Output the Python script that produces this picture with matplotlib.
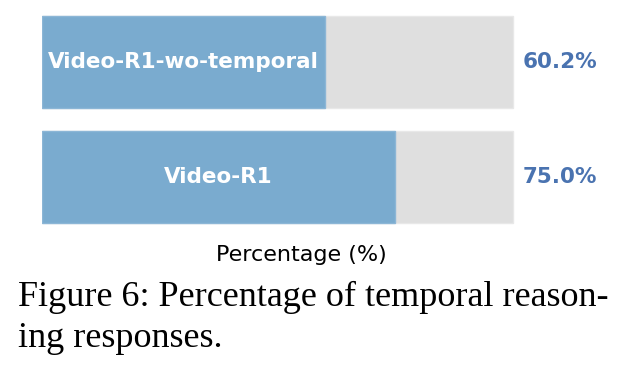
import matplotlib.pyplot as plt

models = ["Video-R1", "Video-R1-wo-temporal"]
values = [75.0, 60.2]
full = 100

fig = plt.figure(figsize=(6.42, 3.68), dpi=100)
ax = fig.add_axes([42 / 642, 1 - 235 / 368, 518 / 642, 231 / 368])

pos = range(len(models))
ax.barh(pos, [full] * len(models), height=0.8, color="#dfdfdf", edgecolor="#e8e8e8", linewidth=1)
ax.barh(pos, values, height=0.8, color="#7aabcf", edgecolor="#8cb6d6", linewidth=1)

for i, (m, v) in enumerate(zip(models, values)):
    ax.text(v / 2, i, m, ha="center", va="center", color="white", fontsize=15.5, fontweight="bold")
    ax.text(102, i, f"{v:.1f}%", ha="left", va="center", color="#4a73b0", fontsize=15.5, fontweight="bold")

ax.set_xlim(0, 110)
ax.set_ylim(-0.5, 1.5)
ax.set_xticks([])
ax.set_yticks([])
for s in ax.spines.values():
    s.set_visible(False)
ax.set_xlabel("Percentage (%)", fontsize=16, labelpad=7)

fig.text(18 / 642, 1 - 347 / 368, "Figure 6: Percentage of temporal reason-\ning responses.",
         family="Liberation Serif", fontsize=26, va="baseline", linespacing=1.3)

fig.savefig("out.png", dpi=100)
